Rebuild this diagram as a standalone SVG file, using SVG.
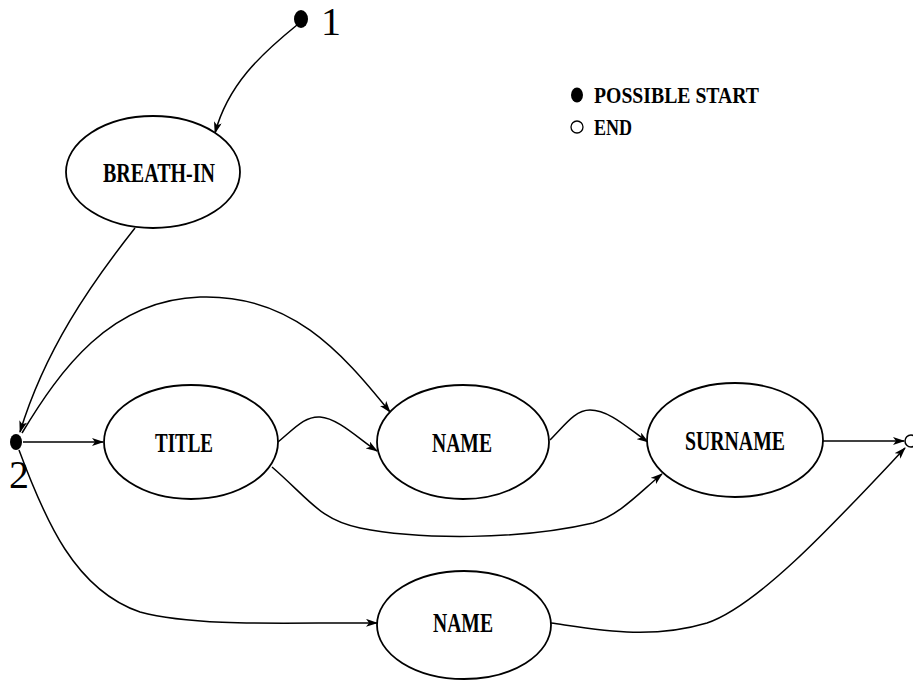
<svg xmlns="http://www.w3.org/2000/svg" width="913" height="680" viewBox="0 0 913 680">
<style>
.node{fill:#fff;stroke:#000;stroke-width:1.8}
.lbl{font-family:"Liberation Serif","Times New Roman",serif;font-weight:bold;font-size:27px;fill:#000}
.leg{font-family:"Liberation Serif","Times New Roman",serif;font-weight:bold;font-size:23px;fill:#000}
.num{font-family:"Liberation Serif","Times New Roman",serif;font-size:40px;fill:#000}
.edge{fill:none;stroke:#000;stroke-width:1.5;marker-end:url(#arr)}
</style>
<defs>
<marker id="arr" viewBox="0 0 12 8" refX="11" refY="4" markerWidth="12" markerHeight="8" markerUnits="userSpaceOnUse" orient="auto">
<path d="M0,0 L12,4 L0,8 L3,4 z" fill="#000"/>
</marker>
</defs>
<rect width="913" height="680" fill="#fff"/>
<g id="connectors">
<path class="edge" d="M297,25 C 260,55 228,85 215,133"/>
<path class="edge" d="M135,228 C 90,285 45,350 20,432"/>
<path class="edge" d="M22,433 C 60,370 110,300 200,297 C 290,294 340,350 390,412"/>
<path class="edge" d="M23,442 L103,442"/>
<path class="edge" d="M278,442 C 295,428 305,416 320,417 C 338,418 360,440 377,451"/>
<path class="edge" d="M550,440 C 565,425 575,410 590,410 C 610,410 630,430 648,442"/>
<path class="edge" d="M272,467 C 310,500 320,520 360,528 C 420,540 520,540 593,523 C 620,515 640,492 662,474"/>
<path class="edge" d="M823,441 L904,441"/>
<path class="edge" d="M19,450 C 45,520 75,590 140,612 C 200,628 300,622 377,623"/>
<path class="edge" d="M551,623 C 600,630 650,640 707,623 C 760,605 840,517 905,448"/>
</g>
<g id="start1">
<ellipse cx="301" cy="19" rx="7" ry="9" fill="#000"/>
<text class="num" x="321" y="35">1</text>
</g>
<g id="breath-in">
<ellipse class="node" cx="153" cy="172" rx="87" ry="56"/>
<text class="lbl" x="159" y="182" text-anchor="middle" textLength="112" lengthAdjust="spacingAndGlyphs">BREATH-IN</text>
</g>
<g id="start2">
<ellipse cx="16" cy="442" rx="6" ry="8" fill="#000"/>
<text class="num" x="9" y="488">2</text>
</g>
<g id="title">
<ellipse class="node" cx="191" cy="442" rx="87" ry="57"/>
<text class="lbl" x="184" y="452" text-anchor="middle" textLength="58" lengthAdjust="spacingAndGlyphs">TITLE</text>
</g>
<g id="name1">
<ellipse class="node" cx="463" cy="442" rx="86" ry="57"/>
<text class="lbl" x="462" y="452" text-anchor="middle" textLength="60" lengthAdjust="spacingAndGlyphs">NAME</text>
</g>
<g id="surname">
<ellipse class="node" cx="735" cy="440" rx="88" ry="57"/>
<text class="lbl" x="735" y="450" text-anchor="middle" textLength="100" lengthAdjust="spacingAndGlyphs">SURNAME</text>
</g>
<g id="name2">
<ellipse class="node" cx="464" cy="625" rx="87" ry="54"/>
<text class="lbl" x="463" y="632" text-anchor="middle" textLength="60" lengthAdjust="spacingAndGlyphs">NAME</text>
</g>
<g id="end">
<circle cx="911" cy="441" r="6" fill="#fff" stroke="#000" stroke-width="1.5"/>
</g>
<g id="legend">
<ellipse cx="577" cy="95" rx="6" ry="7.5" fill="#000"/>
<text class="leg" x="594" y="103" textLength="165" lengthAdjust="spacingAndGlyphs">POSSIBLE START</text>
<circle cx="577" cy="127" r="6" fill="none" stroke="#000" stroke-width="1.3"/>
<text class="leg" x="594" y="135" textLength="38" lengthAdjust="spacingAndGlyphs">END</text>
</g>
</svg>
